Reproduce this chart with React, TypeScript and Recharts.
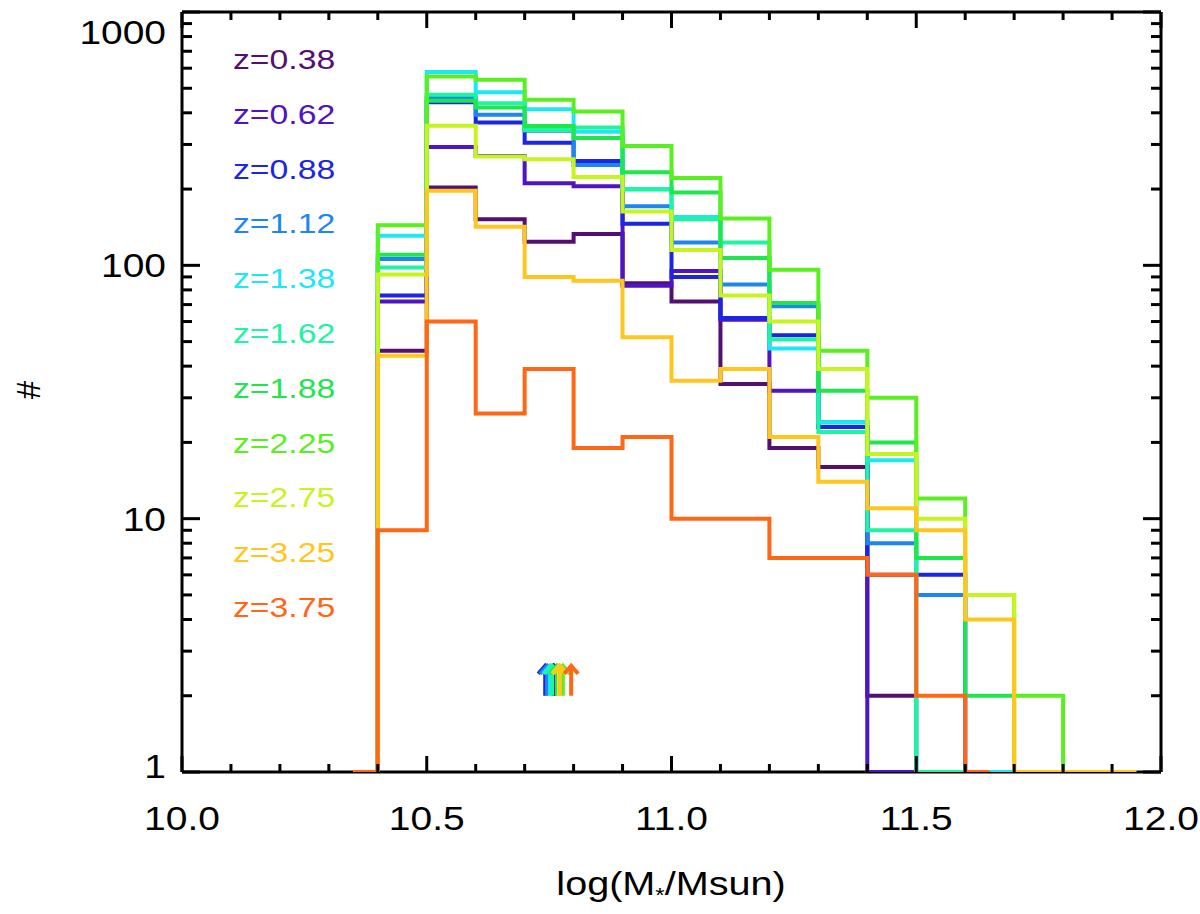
import React from 'react'
import { ComposedChart, Line, Scatter, XAxis, YAxis } from 'recharts'

// redshift bins and their colours
const REDSHIFTS = ['0.38', '0.62', '0.88', '1.12', '1.38', '1.62', '1.88', '2.25', '2.75', '3.25', '3.75']
const COLORS = ['#55106f', '#4f14c4', '#1b25e4', '#1d87ef', '#1de8f2', '#1ff4a2', '#1fe64c', '#5af01f', '#c6f41f', '#ffc61f', '#ff6716']

// bin centres in log(M*/Msun), bins are 0.1 wide
const BINS = [10.35, 10.45, 10.55, 10.65, 10.75, 10.85, 10.95, 11.05, 11.15, 11.25, 11.35, 11.45, 11.55, 11.65, 11.75, 11.85, 11.95]

// counts per bin (0 = empty bin)
const N_038 = [0, 46, 203, 152, 124, 133, 85, 72, 34, 19, 16, 2, 0]
const N_062 = [0, 72, 293, 270, 211, 205, 83, 95, 61, 32, 23, 0, 0]
const N_088 = [0, 76, 440, 366, 305, 258, 146, 90, 62, 53, 23, 6, 6, 0]
const N_112 = [0, 106, 460, 393, 340, 249, 171, 123, 84, 69, 24, 8, 5, 0]
const N_138 = [0, 131, 580, 482, 413, 337, 200, 155, 107, 47, 24, 17, 0, 0, 0]
const N_162 = [0, 98, 471, 436, 342, 350, 199, 152, 123, 51, 22, 9, 0, 0]
const N_188 = [0, 110, 446, 420, 355, 318, 233, 194, 107, 71, 32, 20, 7, 2, 0]
const N_225 = [0, 144, 556, 540, 450, 405, 296, 221, 153, 96, 46, 30, 12, 5, 2, 0]
const N_275 = [0, 92, 356, 269, 262, 223, 163, 115, 76, 60, 39, 18, 10, 5, 0]
const N_325 = [0, 44, 197, 142, 90, 87, 52, 35, 39, 21, 14, 11, 9, 4, 0, 0, 0]
const N_375 = [0, 9, 60, 26, 39, 19, 21, 10, 10, 7, 7, 6, 2, 0]

const COUNTS = [N_038, N_062, N_088, N_112, N_138, N_162, N_188, N_225, N_275, N_325, N_375]

// median-mass arrows, one per redshift
const ARROW_X = [10.76, 10.758, 10.742, 10.746, 10.752, 10.756, 10.766, 10.778, 10.77, 10.772, 10.795]
const ARROW_BASE = 2

const X_TICKS = [10, 10.1, 10.2, 10.3, 10.4, 10.5, 10.6, 10.7, 10.8, 10.9, 11, 11.1, 11.2, 11.3, 11.4, 11.5, 11.6, 11.7, 11.8, 11.9, 12]
const Y_TICKS = [1, 2, 3, 4, 5, 6, 7, 8, 9, 10, 20, 30, 40, 50, 60, 70, 80, 90, 100, 200, 300, 400, 500, 600, 700, 800, 900, 1000]

const FONT = '"Liberation Sans", Arial, Helvetica, sans-serif'
const W = 1200
const H = 914

const isMajorX = (v: number) => Math.abs(v * 2 - Math.round(v * 2)) < 1e-6
const isMajorY = (v: number) => Math.abs(Math.log10(v) - Math.round(Math.log10(v))) < 1e-6

function BottomTick({ x, y, payload }: any) {
  const major = isMajorX(payload.value)
  return (
    <g>
      <line x1={x} x2={x} y1={y} y2={y - (major ? 16 : 8)} stroke="#000" strokeWidth={3} />
      {major && (
        <text transform={`translate(${x},${y + 58}) scale(1.18,1)`} textAnchor="middle" fontSize={33} fontFamily={FONT} fill="#000">
          {payload.value.toFixed(1)}
        </text>
      )}
    </g>
  )
}

function TopTick({ x, y, payload }: any) {
  const major = isMajorX(payload.value)
  return <line x1={x} x2={x} y1={y} y2={y + (major ? 16 : 8)} stroke="#000" strokeWidth={3} />
}

function LeftTick({ x, y, payload }: any) {
  const major = isMajorY(payload.value)
  const cy = Math.min(Math.max(y, 32), 766)
  return (
    <g>
      <line x1={x} x2={x + (major ? 18 : 10)} y1={y} y2={y} stroke="#000" strokeWidth={3} />
      {major && (
        <text transform={`translate(${x - 16},${cy + 12}) scale(1.18,1)`} textAnchor="end" fontSize={33} fontFamily={FONT} fill="#000">
          {payload.value}
        </text>
      )}
    </g>
  )
}

function RightTick({ x, y, payload }: any) {
  const major = isMajorY(payload.value)
  return <line x1={x} x2={x - (major ? 18 : 10)} y1={y} y2={y} stroke="#000" strokeWidth={3} />
}

function Arrow({ cx, cy, payload }: any) {
  const c = COLORS[payload.i]
  return (
    <g stroke={c} strokeWidth={4} fill="none">
      <line x1={cx} x2={cx} y1={cy} y2={cy - 28} />
      <polyline points={`${cx - 7},${cy - 22} ${cx},${cy - 30} ${cx + 7},${cy - 22}`} />
    </g>
  )
}

export default function App() {
  const series = COUNTS.map(vals => vals.map((n, k) => ({ x: BINS[k], n: Math.max(n, 1) })))
  const arrows = ARROW_X.map((x, i) => ({ x, n: ARROW_BASE, i }))
  const axisLine = { stroke: '#000', strokeWidth: 3 }

  return (
    <div style={{ position: 'absolute', left: 0, top: 0, width: W, height: H, background: '#fff' }}>
      <ComposedChart width={W} height={H} margin={{ top: 11, right: 38, bottom: 0, left: 0 }}>
        <XAxis
          type="number"
          dataKey="x"
          domain={[10, 12]}
          ticks={X_TICKS}
          interval={0}
          allowDataOverflow
          height={142}
          tickSize={0}
          tickMargin={0}
          tickLine={false}
          axisLine={axisLine}
          tick={<BottomTick />}
        />
        <XAxis
          xAxisId="top"
          orientation="top"
          type="number"
          dataKey="x"
          domain={[10, 12]}
          ticks={X_TICKS}
          interval={0}
          allowDataOverflow
          height={1}
          tickSize={0}
          tickMargin={0}
          tickLine={false}
          axisLine={axisLine}
          tick={<TopTick />}
        />
        <YAxis
          type="number"
          dataKey="n"
          scale="log"
          domain={[1, 1000]}
          ticks={Y_TICKS}
          interval={0}
          allowDataOverflow
          width={182}
          tickSize={0}
          tickMargin={0}
          tickLine={false}
          axisLine={axisLine}
          tick={<LeftTick />}
        />
        <YAxis
          yAxisId="right"
          orientation="right"
          type="number"
          scale="log"
          domain={[1, 1000]}
          ticks={Y_TICKS}
          interval={0}
          allowDataOverflow
          width={1}
          tickSize={0}
          tickMargin={0}
          tickLine={false}
          axisLine={axisLine}
          tick={<RightTick />}
        />
        {series.map((data, i) => (
          <Line
            key={REDSHIFTS[i]}
            data={data}
            type="step"
            dataKey="n"
            stroke={COLORS[i]}
            strokeWidth={4}
            dot={false}
            activeDot={false}
            isAnimationActive={false}
            zIndex={600}
          />
        ))}
        <Scatter data={arrows} dataKey="n" shape={<Arrow />} isAnimationActive={false} zIndex={700} />
      </ComposedChart>

      {/* legend and axis titles */}
      <svg width={W} height={H} style={{ position: 'absolute', left: 0, top: 0, pointerEvents: 'none' }} fontFamily={FONT}>
        {REDSHIFTS.map((z, i) => (
          <text key={z} transform={`translate(233,${59.3 + 54.8 * i + 9.7}) scale(1.25,1)`} fontSize={27} fill={COLORS[i]}>
            z={z}
          </text>
        ))}
        <text transform="translate(671,895) scale(1.2,1)" textAnchor="middle" fontSize={33} fill="#000">
          log(M<tspan fontSize={20} dy={7}>*</tspan><tspan dy={-7}>/Msun)</tspan>
        </text>
        <text transform="translate(40,390) rotate(-90)" textAnchor="middle" fontSize={33} fill="#000">
          #
        </text>
      </svg>
    </div>
  )
}
